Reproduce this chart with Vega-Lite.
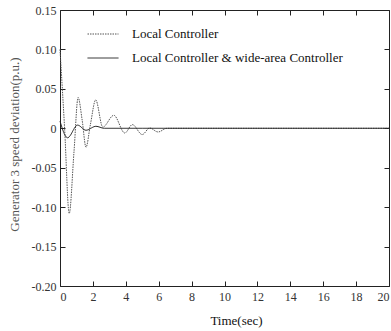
{
  "$schema": "https://vega.github.io/schema/vega-lite/v6.json",
  "autosize": "none",
  "padding": {"left": 60, "top": 10, "right": 2, "bottom": 45},
  "width": 329,
  "height": 276,
  "background": "white",
  "config": {
    "view": {"stroke": "#222", "strokeWidth": 1},
    "font": "Liberation Serif",
    "axis": {"grid": false, "domain": false, "tickColor": "#222", "labelFont": "Liberation Serif", "titleFont": "Liberation Serif", "labelFontSize": 12, "labelColor": "#333", "titleFontWeight": "normal", "titleFontSize": 13}
  },
  "data": {"values": [
    {"t": 0, "v": 0.10, "s": "Local Controller"},
    {"t": 0.28, "v": 0.0, "s": "Local Controller"},
    {"t": 0.56, "v": -0.108, "s": "Local Controller"},
    {"t": 0.85, "v": -0.03, "s": "Local Controller"},
    {"t": 1.1, "v": 0.039, "s": "Local Controller"},
    {"t": 1.35, "v": 0.01, "s": "Local Controller"},
    {"t": 1.58, "v": -0.024, "s": "Local Controller"},
    {"t": 1.85, "v": 0.005, "s": "Local Controller"},
    {"t": 2.17, "v": 0.036, "s": "Local Controller"},
    {"t": 2.6, "v": 0.0015, "s": "Local Controller"},
    {"t": 3.27, "v": 0.0165, "s": "Local Controller"},
    {"t": 3.94, "v": -0.006, "s": "Local Controller"},
    {"t": 4.4, "v": 0.0047, "s": "Local Controller"},
    {"t": 5.0, "v": -0.008, "s": "Local Controller"},
    {"t": 5.45, "v": 0.0004, "s": "Local Controller"},
    {"t": 5.96, "v": -0.0047, "s": "Local Controller"},
    {"t": 6.5, "v": 0, "s": "Local Controller"},
    {"t": 8, "v": 0, "s": "Local Controller"},
    {"t": 20, "v": 0, "s": "Local Controller"},
    {"t": 0, "v": 0.009, "s": "Local Controller & wide-area Controller"},
    {"t": 0.46, "v": -0.012, "s": "Local Controller & wide-area Controller"},
    {"t": 1.07, "v": 0.004, "s": "Local Controller & wide-area Controller"},
    {"t": 1.58, "v": -0.0025, "s": "Local Controller & wide-area Controller"},
    {"t": 2.18, "v": 0.0025, "s": "Local Controller & wide-area Controller"},
    {"t": 2.7, "v": 0, "s": "Local Controller & wide-area Controller"},
    {"t": 5, "v": 0, "s": "Local Controller & wide-area Controller"},
    {"t": 20, "v": 0, "s": "Local Controller & wide-area Controller"}
  ]},
  "layer": [
    {
      "mark": {"type": "line", "interpolate": "monotone", "strokeWidth": 1},
      "encoding": {
        "x": {"field": "t", "type": "quantitative", "scale": {"domain": [0, 20], "nice": false},
              "axis": {"values": [0,2,4,6,8,10,12,14,16,18,20], "tickSize": -5, "labelPadding": 10, "title": "Time(sec)", "titleColor": "#111", "titleFontWeight": "normal", "titlePadding": 12, "titleX": 176}},
        "y": {"field": "v", "type": "quantitative", "scale": {"domain": [-0.2, 0.15], "nice": false, "zero": false},
              "axis": {"values": [-0.2,-0.15,-0.1,-0.05,0,0.05,0.1,0.15], "tickSize": -5, "labelPadding": 9,
                       "labelExpr": "datum.value == 0 ? '0' : (datum.value < 0 ? '-' + format(-datum.value, '.2f') : format(datum.value, '.2f'))",
                       "title": "Generator 3 speed deviation(p.u.)", "titleColor": "#555", "titleFontWeight": "normal", "titlePadding": 10, "titleY": 134}},
        "strokeDash": {"field": "s", "type": "nominal", "scale": {"domain": ["Local Controller", "Local Controller & wide-area Controller"], "range": [[1.5, 1], [1, 0]]},
                       "legend": {"title": null, "orient": "none", "legendX": 27, "legendY": 8, "symbolType": "stroke", "symbolSize": 961, "symbolStrokeWidth": 1, "labelFont": "Liberation Serif", "labelFontSize": 13, "labelColor": "#111", "labelOffset": 13, "rowPadding": 1, "labelLimit": 400, "padding": 0}},
        "color": {"field": "s", "type": "nominal", "scale": {"domain": ["Local Controller", "Local Controller & wide-area Controller"], "range": ["#555", "#222"]},
                  "legend": {"title": null, "orient": "none", "legendX": 27, "legendY": 8, "symbolType": "stroke", "symbolSize": 961, "symbolStrokeWidth": 1, "labelFont": "Liberation Serif", "labelFontSize": 13, "labelColor": "#111", "labelOffset": 13, "rowPadding": 1, "labelLimit": 400, "padding": 0}}
      }
    },
    {
      "mark": {"type": "line", "opacity": 0},
      "encoding": {
        "x": {"field": "t", "type": "quantitative", "scale": {"domain": [0, 20], "nice": false},
              "axis": {"orient": "top", "values": [0,2,4,6,8,10,12,14,16,18,20], "tickSize": -5, "labels": false, "title": null}},
        "y": {"field": "v", "type": "quantitative", "scale": {"domain": [-0.2, 0.15], "nice": false, "zero": false},
              "axis": {"orient": "right", "values": [-0.2,-0.15,-0.1,-0.05,0,0.05,0.1,0.15], "tickSize": -5, "labels": false, "title": null}}
      }
    }
  ],
  "resolve": {"scale": {"x": "independent", "y": "independent"}}
}
